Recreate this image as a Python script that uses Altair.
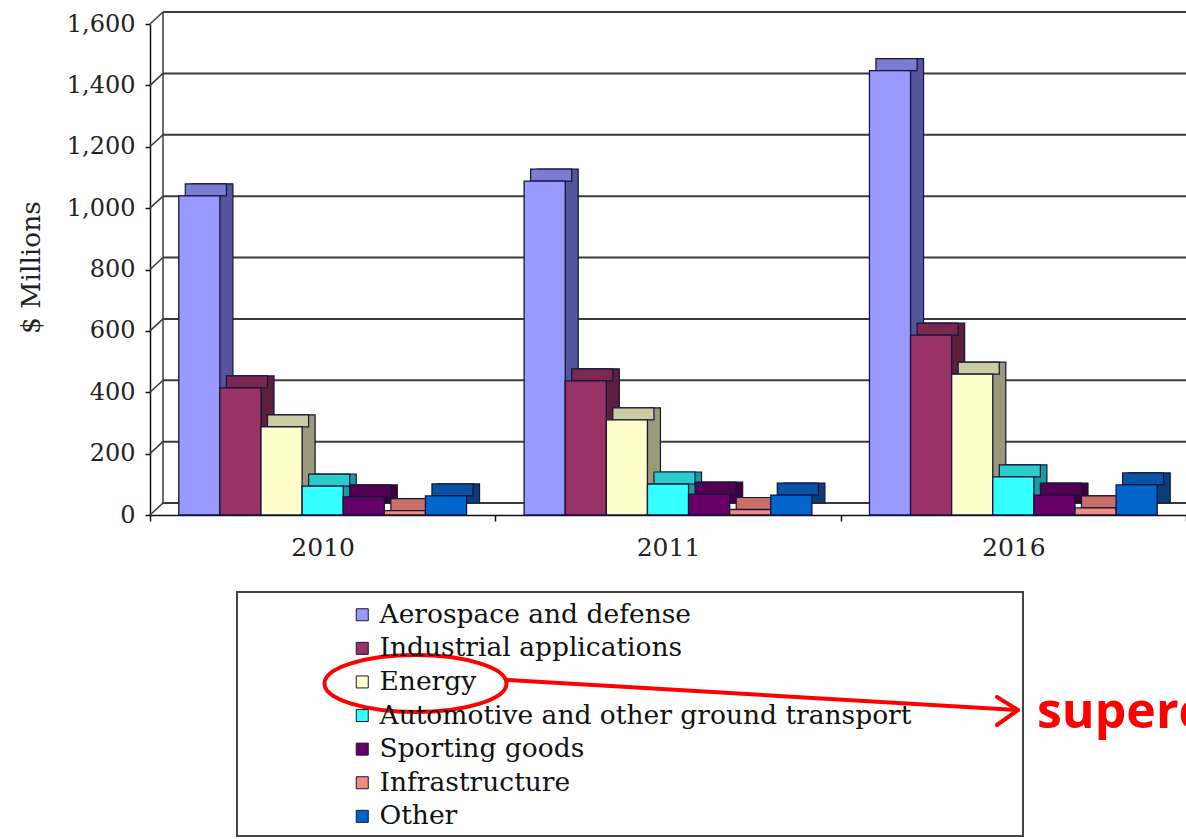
import altair as alt
import pandas as pd

# ---------------- data ----------------
years = ["2010", "2011", "2016"]
categories = [
    "Aerospace and defense",
    "Industrial applications",
    "Energy",
    "Automotive and other ground transport",
    "Sporting goods",
    "Infrastructure",
    "Other",
]
values_2010 = [1040, 414, 287, 94, 59, 14, 62]
values_2011 = [1088, 437, 310, 101, 68, 18, 65]
values_2016 = [1448, 586, 459, 124, 65, 23, 98]

front_colors = ["#9999FF", "#993366", "#FFFFCC", "#33FFFF", "#660066", "#F08C80", "#0066CC"]
side_colors = ["#55559C", "#5C1F3D", "#9A9A7A", "#1E9A9A", "#3D003D", "#9A5550", "#0D3D78"]
top_colors = ["#7C7CD4", "#7A2850", "#CCCCA3", "#2ACCCC", "#520052", "#C87068", "#0A52A3"]

y_ticks = [0, 200, 400, 600, 800, 1000, 1200, 1400, 1600]
y_title = "$ Millions"
annotation_text = "supercapacitors"

rows = []
for gi, (yr, vals) in enumerate(zip(years, [values_2010, values_2011, values_2016])):
    for ci, (cat, v, sc, tc) in enumerate(zip(categories, vals, side_colors, top_colors)):
        rows.append({"year": yr, "gi": gi, "category": cat, "ci": ci, "value": v,
                     "side": sc, "top": tc})
df = pd.DataFrame(rows)
grid_df = pd.DataFrame({"tick": y_ticks})
one = pd.DataFrame({"k": [0]})

# ---------------- layout ----------------
W, H = 1036, 491
DX, DY = 13, 12
GROUP = 8.4          # group step measured in bar widths
PAD = 0.7            # outer gap (in bar widths) on each side of a group
n_groups = len(years)
x_lo, x_hi = -PAD, n_groups * GROUP - PAD
px_per_unit = W / (x_hi - x_lo)
bounds = [x_lo + GROUP * i for i in range(n_groups + 1)]

label_expr = " : ".join(
    f"datum.value < {bounds[i] + 0.5} ? '{years[i]}'" for i in range(n_groups)
) + " : ''"

x_scale = alt.Scale(domain=[x_lo, x_hi], nice=False, zero=False, padding=0)
y_scale = alt.Scale(domain=[0, 1600], nice=False, zero=True, padding=0)
SERIF = "DejaVu Serif"
STROKE = "#14143C"

x_axis = alt.Axis(
    title=None, values=bounds, grid=False, labelExpr=label_expr,
    labelOffset=GROUP * px_per_unit / 2, labelAlign="center",
    domainColor="#111111", domainWidth=1.5, tickColor="#111111", tickSize=6,
    tickWidth=1.5, labelFont=SERIF, labelFontSize=25, labelColor="#222222",
    labelPadding=14, labelAngle=0, labelFlush=False, labelOverlap=False,
)
y_axis = alt.Axis(
    values=y_ticks, labelExpr="format(datum.value, ',')", grid=False,
    domainColor="#111111", domainWidth=1.5,
    tickColor="#111111", tickSize=5, tickWidth=1.5, labelFont=SERIF, labelFontSize=24,
    labelColor="#222222", labelPadding=10, title=y_title, titleFont=SERIF,
    titleFontSize=26.5, titleFontWeight="normal", titleColor="#222222", titleAngle=270,
    titleX=-119, titleY=243, titleAlign="center", titleBaseline="middle",
)

slot_calc = {"slot": f"datum.gi * {GROUP} + datum.ci", "slot2": f"datum.gi * {GROUP} + datum.ci + 1"}

# legend frame
box = alt.Chart(one).mark_rect(fill="white", stroke="#444444", strokeWidth=2).encode(
    x=alt.value(87), x2=alt.value(873), y=alt.value(568), y2=alt.value(812)
)

# back wall gridlines
grid = alt.Chart(grid_df).mark_rule(color="#3A3A3A", strokeWidth=2, yOffset=-DY).encode(
    y=alt.Y("tick:Q", scale=y_scale, axis=y_axis),
    x=alt.value(DX),
    x2=alt.value(W),
)
diag = alt.Chart(grid_df).mark_rule(color="#3A3A3A", strokeWidth=1.5, y2Offset=-DY).encode(
    y=alt.Y("tick:Q", scale=y_scale, axis=y_axis),
    y2=alt.Y2("tick:Q"),
    x=alt.value(0),
    x2=alt.value(DX),
)
wall = alt.Chart(grid_df).mark_rule(color="#3A3A3A", strokeWidth=1.5, yOffset=-DY, y2Offset=-DY).encode(
    x=alt.value(DX),
    y=alt.Y("min(tick):Q", scale=y_scale, axis=y_axis),
    y2=alt.Y2("max(tick):Q"),
)


def bars(color_field, dx, dy_top, dy_bottom, top_only=False):
    enc = dict(
        x=alt.X("slot:Q", scale=x_scale, axis=x_axis),
        x2=alt.X2("slot2:Q"),
        y=alt.Y("value:Q", scale=y_scale, axis=y_axis),
        y2=alt.Y2("value:Q") if top_only else alt.Y2(datum=0),
        color=alt.Color(f"{color_field}:N", scale=None),
    )
    return (
        alt.Chart(df)
        .transform_calculate(**slot_calc)
        .mark_bar(stroke=STROKE, strokeWidth=1.2, xOffset=dx, x2Offset=dx,
                  yOffset=dy_top, y2Offset=dy_bottom)
        .encode(**enc)
    )


side = bars("side", DX, -DY, -DY)
top = bars("top", DX / 2, -DY, 0, top_only=True)

# front faces
front = (
    alt.Chart(df)
    .transform_calculate(**slot_calc)
    .mark_bar(stroke=STROKE, strokeWidth=1.3)
    .encode(
        x=alt.X("slot:Q", scale=x_scale, axis=x_axis),
        x2=alt.X2("slot2:Q"),
        y=alt.Y("value:Q", scale=y_scale, axis=y_axis),
        y2=alt.Y2(datum=0),
        color=alt.Color(
            "category:N",
            scale=alt.Scale(domain=categories, range=front_colors),
            legend=alt.Legend(
                orient="none", legendX=199, legendY=577.5, direction="vertical", title=None,
                symbolType="square", symbolSize=144, symbolStrokeColor="#222222",
                symbolStrokeWidth=1, labelFont=SERIF, labelFontSize=26.5, labelColor="#111111",
                labelOffset=4, rowPadding=6.6, padding=0, labelLimit=1000,
            ),
        ),
    )
)

# red annotation
ellipse_path = "M -1 0 A 1 0.313 0 1 1 1 0 A 1 0.313 0 1 1 -1 0 Z"
ellipse = alt.Chart(one).mark_point(
    shape=ellipse_path, size=182 * 182, filled=False, color="#FF0000", strokeWidth=4, opacity=1
).encode(x=alt.value(265.5), y=alt.value(659.5))
shaft = alt.Chart(one).mark_rule(color="#FF0000", strokeWidth=4, strokeCap="round").encode(
    x=alt.value(357), y=alt.value(656), x2=alt.value(867), y2=alt.value(686)
)
head1 = alt.Chart(one).mark_rule(color="#FF0000", strokeWidth=4, strokeCap="round").encode(
    x=alt.value(847), y=alt.value(673), x2=alt.value(868), y2=alt.value(686)
)
head2 = alt.Chart(one).mark_rule(color="#FF0000", strokeWidth=4, strokeCap="round").encode(
    x=alt.value(847), y=alt.value(701), x2=alt.value(868), y2=alt.value(686)
)
label = alt.Chart(one).mark_text(
    text=annotation_text, font="Open Sans", fontWeight="bold", fontSize=50,
    color="#FF0000", align="left", baseline="alphabetic",
).encode(x=alt.value(887), y=alt.value(704))

chart = (
    alt.layer(box, grid, diag, wall, side, top, front, ellipse, shaft, head1, head2, label)
    .properties(
        width=W,
        height=H,
        padding={"left": 150, "top": 24, "right": 0, "bottom": 324},
        autosize=alt.AutoSizeParams(type="none"),
        background="white",
    )
    .configure_view(stroke=None)
)

chart.save("out.html", embed_options={"renderer": "svg", "actions": False})
